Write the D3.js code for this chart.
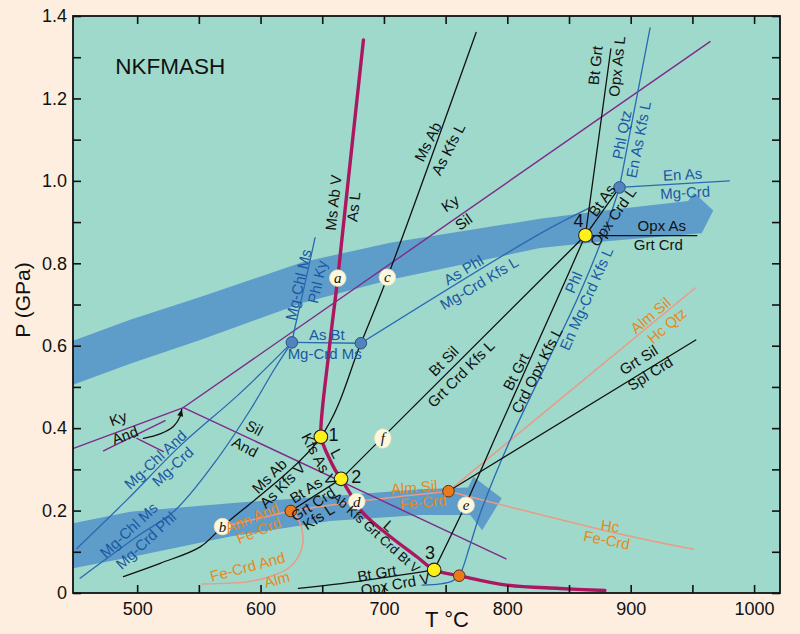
<!DOCTYPE html>
<html><head><meta charset="utf-8">
<script src="https://cdn.jsdelivr.net/npm/d3@7"></script>
<style>
body{margin:0;background:#fdeee0;}
svg{display:block;}
text{font-family:"Liberation Sans",Arial,Helvetica,sans-serif;}
</style></head><body>
<svg id="chart" width="800" height="634"></svg>
<script>
// ================= DATA (T in °C, P in GPa) =================
const tempTicks = [500,550,600,650,700,750,800,850,900,950,1000];
const tempLabels = [500,600,700,800,900,1000];
const pTicks = [0,0.1,0.2,0.3,0.4,0.5,0.6,0.7,0.8,0.9,1.0,1.1,1.2,1.3,1.4];
const pLabels = [0,0.2,0.4,0.6,0.8,1.0,1.2,1.4];

// thick melting curve (Ms Ab V = As L ... Ab Kfs Grt Crd Bt V = L)
const meltCurve = [[683.4,1.342],[671.1,1.002],[662.6,0.765],[655.6,0.590],[648.9,0.379],[651.0,0.359],[655.0,0.331],[660.4,0.299],[665.3,0.277],[674.2,0.234],[683.4,0.193],[705.0,0.137],[726.7,0.088],[740.7,0.056],[761.0,0.042],[799.6,0.019],[842.6,0.011],[879.1,0.006]];
// black reactions
const msAbLine = [[488.9,0.040],[518.6,0.072],[551.1,0.112],[569.1,0.161],[648.9,0.379],[681.3,0.606],[702.8,0.766],[774.7,1.360]];
const btAsLine = [[624.5,0.199],[665.3,0.277],[863.3,0.868]];
const btGrtLine = [[740.7,0.056],[766.0,0.213],[793.0,0.396],[840.1,0.711],[863.3,0.868]];
const opxAsLLine = [[863.3,0.868],[883.9,1.320]];
const btAsOpxLine = [[863.3,0.868],[890.9,0.984]];
const opxAsGrtLine = [[863.3,0.867],[953.6,0.867]];
const grtSilLine = [[752.3,0.247],[952.7,0.614]];
const btGrtVLine = [[630.7,0.011],[680.7,0.029],[740.7,0.056]];
// blue (Mg end-member) reactions
const asBtLine = [[625.4,0.608],[681.3,0.606]];
const asPhlLine = [[681.3,0.606],[826.6,0.872],[867.1,0.935]];
const phlKyLine = [[625.4,0.608],[628.0,0.646],[634.8,0.735],[644.2,0.862]];
const chlAndLine = [[451.1,0.108],[491.7,0.226],[534.8,0.357],[583.5,0.485],[625.4,0.608]];
const chlMsLine = [[453.8,0.036],[498.4,0.134],[530.8,0.201],[563.2,0.318],[591.6,0.444],[611.8,0.546],[625.4,0.608]];
const phlLine = [[731.0,0.019],[745.5,0.022],[755.3,0.029],[761.0,0.042],[769.9,0.117],[778.0,0.193],[802.3,0.371],[856.3,0.711],[876.6,0.857],[890.9,0.984]];
const phlQtzLine = [[890.9,0.984],[915.7,1.371]];
const enAsLine = [[890.9,0.984],[980.0,1.000]];
// Al2SiO5 (purple)
const kySilLine = [[537.5,0.450],[964.3,1.338]];
const kyAndLine = [[448.4,0.351],[537.5,0.450]];
const silAndLine = [[537.5,0.450],[799.0,0.083]];
const kyAndLine2 = [[472.7,0.345],[522.7,0.418]];
const silAndLine2 = [[499.8,0.375],[521.3,0.343]];
const shiftArrow = [[505.1,0.375],[518.6,0.386],[529.4,0.404],[534.8,0.428],[536.2,0.446]];
// Fe end-member (orange)
const annAndLine = [[569.1,0.161],[624.5,0.199]];
const almSilFeCrdLine = [[624.5,0.199],[678.0,0.222],[752.3,0.247]];
const hcFeCrdLine = [[752.3,0.247],[891.4,0.143],[950.8,0.106]];
const almHcQtzLine = [[752.3,0.247],[952.2,0.740]];
const feCrdAlmLine = [[624.5,0.199],[629.4,0.185],[633.5,0.153],[634.3,0.121],[630.7,0.088],[622.6,0.060],[607.8,0.040],[588.9,0.027],[552.4,0.022]];
// P-T path bands (arrows)
const bandUpper = [[448.1,0.612],[494.3,0.663],[551.1,0.718],[634.5,0.803],[705.0,0.850],[826.6,0.908],[875.2,0.927],[946.5,0.951],[951.4,0.971],[966.9,0.928],[957.6,0.873],[875.2,0.852],[826.6,0.837],[705.0,0.760],[634.5,0.704],[551.1,0.614],[494.3,0.556],[448.1,0.505]];
const bandLower = [[448.1,0.169],[494.3,0.197],[575.4,0.218],[656.4,0.235],[729.3,0.252],[768.2,0.256],[772.5,0.282],[795.5,0.230],[779.6,0.152],[769.9,0.189],[729.3,0.189],[656.4,0.175],[575.4,0.137],[494.3,0.087],[448.1,0.060]];
// invariant points
const yellowPoints = [[648.9,0.379],[665.3,0.277],[740.7,0.056],[863.3,0.868]];
const orangePoints = [[624.5,0.199],[752.3,0.247],[761.0,0.042]];
const bluePoints = [[625.4,0.608],[681.3,0.606],[890.9,0.984]];
const letterNames = ["a","b","c","d","e","f"];
const letterPoints = [[662.6,0.764],[569.1,0.161],[702.8,0.766],[678.0,0.222],[766.6,0.213],[699.1,0.375]];
const pointNames = ["1","2","3","4"];
const pointLabelPos = [[659.1,0.383],[677.5,0.282],[737.4,0.096],[857.6,0.903]];

// curve labels: [text, T, P, rotation, colour-group]
const curveLabels = [
 ["Ms Ab V",658.8,0.947,-84,"k"],["As L",675.3,0.937,-84,"k"],
 ["Ms Ab",735.5,1.095,-63,"k"],["As Kfs L",752.0,1.077,-63,"k"],
 ["Ky",753.6,0.946,-35,"k"],["Sil",764.4,0.901,-35,"k"],
 ["Bt Grt",871.2,1.280,-84,"k"],["Opx As L",888.7,1.278,-84,"k"],
 ["Bt As",876.6,0.953,-55,"k"],["Opx Crd L",885.5,0.913,-55,"k"],
 ["Opx As",925.2,0.891,0,"k"],["Grt Crd",922.4,0.846,0,"k"],
 ["Grt Sil",906.3,0.566,-32,"k"],["Spl Crd",915.7,0.533,-32,"k"],
 ["Bt Sil",748.2,0.563,-45,"k"],["Grt Crd Kfs L",762.4,0.532,-45,"k"],
 ["Bt Grt",806.9,0.537,-63,"k"],["Crd Opx Kfs L",823.9,0.541,-63,"k"],
 ["Ms Ab",607.0,0.284,-45,"k"],["As Kfs V",617.7,0.262,-45,"k"],
 ["Kfs As V",647.5,0.325,62,"k"],["L",661.8,0.339,62,"k"],
 ["Bt As",636.7,0.250,-33,"k"],["Grt Crd",642.4,0.216,-33,"k"],["Kfs L",646.9,0.185,-33,"k"],
 ["Ab Kfs Grt Crd Bt V",693.7,0.146,42,"k"],["L",704.2,0.163,42,"k"],
 ["Bt Grt",694.2,0.048,-10,"k"],["Opx Crd V",709.1,0.022,-10,"k"],
 ["Sil",595.0,0.401,28,"k"],["And",587.5,0.355,28,"k"],
 ["Ky",484.5,0.424,-20,"k"],["And",490.0,0.383,-20,"k"],
 ["Mg-Chl Ms",630.5,0.748,-77,"b"],["Phl Ky",645.9,0.755,-77,"b"],
 ["As Bt",653.7,0.626,0,"b"],["Mg-Crd Ms",652.0,0.580,0,"b"],
 ["As Phl",764.4,0.784,-31,"b"],["Mg-Crd Kfs L",777.1,0.752,-31,"b"],
 ["Phl Qtz",892.7,1.112,-79,"b"],["En As Kfs L",906.2,1.100,-79,"b"],
 ["En As",942.0,1.016,-3,"b"],["Mg-Crd",944.1,0.972,-3,"b"],
 ["Phl",853.6,0.754,-66,"b"],["En Mg-Crd Kfs L",863.9,0.714,-66,"b"],
 ["Mg-Chl And",514.6,0.324,-43,"b"],["Mg-Crd",528.6,0.307,-43,"b"],
 ["Mg-Chl Ms",493.0,0.153,-43,"b"],["Mg-Crd Phl",507.0,0.128,-43,"b"],
 ["Ann And",593.0,0.183,-22,"o"],["Fe-Crd",598.4,0.152,-22,"o"],
 ["Alm Sil",724.5,0.257,-5,"o"],["Fe-Crd",731.8,0.221,-5,"o"],
 ["Fe-Crd And",589.4,0.064,-15,"o"],["Alm",613.2,0.033,-15,"o"],
 ["Alm Sil",915.9,0.674,-40,"o"],["Hc Qtz",929.2,0.649,-40,"o"],
 ["Hc",883.3,0.163,8,"o"],["Fe-Crd",880.6,0.129,11,"o"]
];
const compactLabels = ["Ab Kfs Grt Crd Bt V"];

// ================= DRAWING =================
const svg = d3.select("#chart");
const x = d3.scaleLinear().domain([448,1021]).range([73,780]);
const y = d3.scaleLinear().domain([0,1.4]).range([593,16]);

const COL = {teal:"#9fd9cb", band:"#5e9dca", magenta:"#ac1760", purple:"#7d2b8c",
  black:"#111", blue:"#2a69b2", blueText:"#1c57a3", orangeText:"#e5891e", salmon:"#eb9a86"};

svg.append("rect").attr("width",800).attr("height",634).attr("fill","#fdeee0");
svg.append("defs").append("clipPath").attr("id","plotclip").append("rect")
  .attr("x",x(448)).attr("y",y(1.4)).attr("width",x(1021)-x(448)).attr("height",y(0)-y(1.4));
svg.append("rect").attr("x",x(448)).attr("y",y(1.4)).attr("width",x(1021)-x(448))
  .attr("height",y(0)-y(1.4)).attr("fill",COL.teal);

const plot = svg.append("g").attr("clip-path","url(#plotclip)");

const poly = d3.line().x(d=>x(d[0])).y(d=>y(d[1]));
[bandUpper,bandLower].forEach(b=>{
  plot.append("path").attr("d",poly(b)+"Z").attr("fill",COL.band);
});

const straight = d3.line().x(d=>x(d[0])).y(d=>y(d[1]));
const smooth = d3.line().x(d=>x(d[0])).y(d=>y(d[1])).curve(d3.curveCatmullRom.alpha(0.5));

function draw(data,color,width,curved){
  plot.append("path").attr("d",(curved?smooth:straight)(data)).attr("fill","none")
    .attr("stroke",color).attr("stroke-width",width).attr("stroke-linejoin","round").attr("stroke-linecap","round");
}
// orange / salmon
draw(annAndLine,COL.salmon,1.5,false);
draw(almSilFeCrdLine,COL.salmon,1.5,true);
draw(hcFeCrdLine,COL.salmon,1.5,true);
draw(almHcQtzLine,COL.salmon,1.5,false);
draw(feCrdAlmLine,COL.salmon,1.5,true);
// purple
[kySilLine,kyAndLine,silAndLine,kyAndLine2,silAndLine2].forEach(l=>draw(l,COL.purple,1.4,false));
// blue
draw(asBtLine,COL.blue,1.3,false);
draw(asPhlLine,COL.blue,1.3,true);
draw(phlKyLine,COL.blue,1.3,true);
draw(chlAndLine,COL.blue,1.3,true);
draw(chlMsLine,COL.blue,1.3,true);
draw(phlLine,COL.blue,1.3,true);
draw(phlQtzLine,COL.blue,1.3,false);
draw(enAsLine,COL.blue,1.3,false);
// black
draw(msAbLine,COL.black,1.3,true);
draw(btAsLine,COL.black,1.3,false);
draw(btGrtLine,COL.black,1.3,true);
draw(opxAsLLine,COL.black,1.3,false);
draw(btAsOpxLine,COL.black,1.3,false);
draw(opxAsGrtLine,COL.black,1.3,false);
draw(grtSilLine,COL.black,1.3,false);
draw(btGrtVLine,COL.black,1.3,true);
// arrow for Al2SiO5 shift
draw(shiftArrow,COL.black,1.3,true);
{
  const a = shiftArrow[shiftArrow.length-1], b = shiftArrow[shiftArrow.length-2];
  const ax=x(a[0]), ay=y(a[1]), ang=Math.atan2(ay-y(b[1]), ax-x(b[0]));
  const L=7, Wd=3;
  const p1=[ax-L*Math.cos(ang)+Wd*Math.sin(ang), ay-L*Math.sin(ang)-Wd*Math.cos(ang)];
  const p2=[ax-L*Math.cos(ang)-Wd*Math.sin(ang), ay-L*Math.sin(ang)+Wd*Math.cos(ang)];
  plot.append("path").attr("d",`M${ax},${ay}L${p1[0]},${p1[1]}L${p2[0]},${p2[1]}Z`).attr("fill",COL.black);
}
// melt curve
draw(meltCurve,COL.magenta,3.4,true);

// points
bluePoints.forEach(p=>plot.append("circle").attr("cx",x(p[0])).attr("cy",y(p[1])).attr("r",5.8)
  .attr("fill","#5283bd").attr("stroke","#2b4f82").attr("stroke-width",1));
orangePoints.forEach(p=>plot.append("circle").attr("cx",x(p[0])).attr("cy",y(p[1])).attr("r",5.8)
  .attr("fill","#ea7a1c").attr("stroke","#5a3010").attr("stroke-width",1));
yellowPoints.forEach(p=>plot.append("circle").attr("cx",x(p[0])).attr("cy",y(p[1])).attr("r",6.8)
  .attr("fill","#fff01c").attr("stroke","#222").attr("stroke-width",1.1));
letterPoints.forEach((p,i)=>{
  plot.append("ellipse").attr("cx",x(p[0])).attr("cy",y(p[1])).attr("rx",8.3).attr("ry",letterNames[i]==="f"?9.8:8.3)
    .attr("fill","#fdf8dc").attr("stroke","#e9dfb8").attr("stroke-width",0.8);
  plot.append("text").attr("x",x(p[0])).attr("y",y(p[1])).attr("text-anchor","middle")
    .attr("dominant-baseline","central").style("font-family","'Liberation Serif','Times New Roman',serif")
    .style("font-style","italic").style("font-size","15px").attr("fill","#111").text(letterNames[i]);
});
pointNames.forEach((n,i)=>{
  plot.append("text").attr("x",x(pointLabelPos[i][0])).attr("y",y(pointLabelPos[i][1]))
    .attr("text-anchor","middle").attr("dominant-baseline","central").style("font-size","18px")
    .attr("fill","#111").text(n);
});

// curve labels
const labelColor = {k:"#111", b:COL.blueText, o:COL.orangeText};
curveLabels.forEach(l=>{
  plot.append("text").attr("transform",`translate(${x(l[1])},${y(l[2])}) rotate(${l[3]})`)
    .attr("text-anchor","middle").attr("dominant-baseline","central")
    .style("font-size",compactLabels.includes(l[0])?"13px":"15px").attr("fill",labelColor[l[4]]).text(l[0]);
});

// title
svg.append("text").attr("x",x(482.2)).attr("y",y(1.26)).style("font-size","22.5px").attr("fill","#111").text("NKFMASH");

// axes
const fmtP = d => d===0 ? "0" : d3.format(".1f")(d);
const ax1 = svg.append("g").attr("transform",`translate(0,${y(0)})`)
  .call(d3.axisBottom(x).tickValues(tempTicks).tickSize(-8).tickPadding(9)
    .tickFormat(d=>tempLabels.includes(d)?d:""));
const ax2 = svg.append("g").attr("transform",`translate(0,${y(1.4)})`)
  .call(d3.axisTop(x).tickValues(tempTicks).tickSize(-8).tickFormat(""));
const ax3 = svg.append("g").attr("transform",`translate(${x(448)},0)`)
  .call(d3.axisLeft(y).tickValues(pTicks).tickSize(-8).tickPadding(6)
    .tickFormat(d=>pLabels.some(v=>Math.abs(v-d)<1e-9)?fmtP(d):""));
const ax4 = svg.append("g").attr("transform",`translate(${x(1021)},0)`)
  .call(d3.axisRight(y).tickValues(pTicks).tickSize(-8).tickFormat(""));
[ax1,ax2,ax3,ax4].forEach(g=>{
  g.select(".domain").remove();
  g.selectAll(".tick line").attr("stroke","#111").attr("stroke-width",1.6);
  g.selectAll(".tick text").style("font-size","18px").attr("fill","#111")
    .style("font-family","'Liberation Sans',Arial,sans-serif");
});
svg.append("rect").attr("x",x(448)).attr("y",y(1.4)).attr("width",x(1021)-x(448))
  .attr("height",y(0)-y(1.4)).attr("fill","none").attr("stroke","#111").attr("stroke-width",1.8);

svg.append("text").attr("x",447).attr("y",627).attr("text-anchor","middle")
  .style("font-size","22px").attr("fill","#111").text("T °C");
svg.append("text").attr("transform","translate(30,300) rotate(-90)").attr("text-anchor","middle")
  .style("font-size","21px").attr("fill","#111").text("P (GPa)");
</script>
</body></html>
